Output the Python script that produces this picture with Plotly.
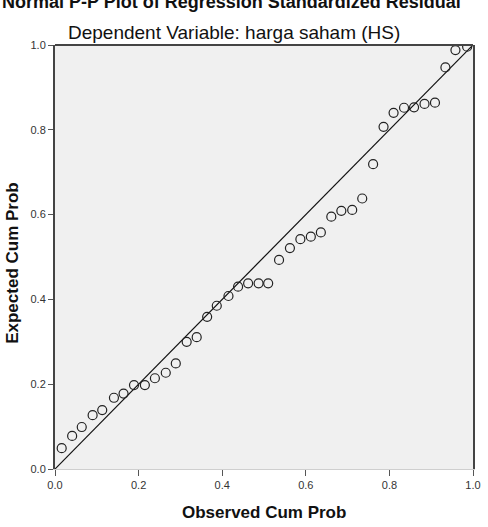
import plotly.graph_objects as go

observed = [0.016, 0.041, 0.064, 0.090, 0.113, 0.141, 0.164, 0.189, 0.215, 0.239,
            0.265, 0.289, 0.315, 0.339, 0.364, 0.387, 0.415, 0.438, 0.462, 0.487,
            0.510, 0.536, 0.562, 0.587, 0.612, 0.636, 0.661, 0.685, 0.711, 0.735,
            0.761, 0.786, 0.810, 0.835, 0.859, 0.884, 0.909, 0.934, 0.958, 0.986]
expected = [0.049, 0.078, 0.099, 0.127, 0.139, 0.168, 0.178, 0.198, 0.198, 0.214,
            0.227, 0.249, 0.300, 0.311, 0.359, 0.385, 0.408, 0.430, 0.438, 0.438,
            0.438, 0.493, 0.521, 0.542, 0.548, 0.558, 0.595, 0.609, 0.611, 0.638,
            0.719, 0.807, 0.840, 0.852, 0.853, 0.861, 0.864, 0.947, 0.988, 0.996]
diag = [0.0, 1.0]
ticks = [0.0, 0.2, 0.4, 0.6, 0.8, 1.0]
tick_text = ["0.0", "0.2", "0.4", "0.6", "0.8", "1.0"]

fig = go.Figure()
fig.add_trace(go.Scatter(x=diag, y=diag, mode="lines",
                         line=dict(color="#111", width=1.2), hoverinfo="skip"))
fig.add_trace(go.Scatter(x=observed, y=expected, mode="markers",
                         marker=dict(symbol="circle-open", size=9, color="#222",
                                     line=dict(color="#222", width=1.2))))

L, R, T, B = 55, 7, 45, 58
W, H = 488, 527
pw, ph = W - L - R, H - T - B

def px_to_paper_x(px):
    return (px - L) / pw

def px_to_paper_y(py):
    return (H - B - py) / ph

font = "Liberation Sans, Arial, sans-serif"
fig.update_layout(
    width=W, height=H,
    margin=dict(l=L, r=R, t=T, b=B),
    paper_bgcolor="white", plot_bgcolor="#f0f0f0",
    showlegend=False,
    font=dict(family=font, color="#222"),
    xaxis=dict(range=[0, 1], tickvals=ticks, ticktext=tick_text, showgrid=False,
               zeroline=False, ticks="outside", ticklen=6, tickcolor="#555",
               tickfont=dict(size=11, color="#333"),
               showline=True, linecolor="#cfcfcf", linewidth=1),
    yaxis=dict(range=[0, 1], tickvals=ticks, ticktext=tick_text, showgrid=False,
               zeroline=False, ticks="outside", ticklen=5, tickcolor="#555",
               tickfont=dict(size=11, color="#333"),
               showline=True, mirror=True, linecolor="#444", linewidth=2),
    shapes=[dict(type="line", xref="paper", yref="paper", x0=0, x1=1, y0=1, y1=1,
                 line=dict(color="#444", width=2))],
    annotations=[
        dict(text="<b>Normal P-P Plot of Regression Standardized Residual</b>",
             xref="paper", yref="paper", x=px_to_paper_x(235), y=px_to_paper_y(2),
             xanchor="center", yanchor="middle", showarrow=False,
             font=dict(size=18, color="#111")),
        dict(text="Dependent Variable: harga saham (HS)",
             xref="paper", yref="paper", x=px_to_paper_x(237), y=px_to_paper_y(33),
             xanchor="center", yanchor="middle", showarrow=False,
             font=dict(size=19, color="#111")),
        dict(text="<b>Observed Cum Prob</b>",
             xref="paper", yref="paper", x=px_to_paper_x(268), y=px_to_paper_y(512),
             xanchor="center", yanchor="middle", showarrow=False,
             font=dict(size=17, color="#111")),
        dict(text="<b>Expected Cum Prob</b>", textangle=-90,
             xref="paper", yref="paper", x=px_to_paper_x(11), y=px_to_paper_y(263),
             xanchor="center", yanchor="middle", showarrow=False,
             font=dict(size=17, color="#111")),
    ],
)

fig.write_html("out.html")
